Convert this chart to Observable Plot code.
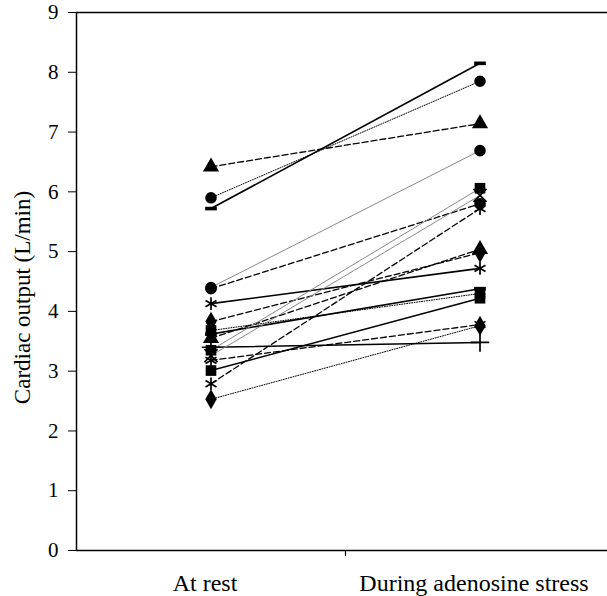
<!DOCTYPE html>
<html>
<head>
<meta charset="utf-8">
<script src="https://cdn.jsdelivr.net/npm/d3@7"></script>
<script src="https://cdn.jsdelivr.net/npm/@observablehq/plot@0.6"></script>
<style>
  body { margin: 0; background: #fff; }
  svg text { font-family: "Times New Roman", "Liberation Serif", serif !important; }
</style>
</head>
<body>
<div id="chart"></div>
<script>
const conditions = ["At rest", "During adenosine stress"];
const yTicks = [0, 1, 2, 3, 4, 5, 6, 7, 8, 9];
const restValues   = [5.72, 5.90, 6.42, 4.40, 4.38, 4.13, 3.83, 3.55, 3.62, 3.68, 3.01, 3.40, 3.26, 3.35, 2.79, 2.53, 3.18];
const stressValues = [8.15, 7.85, 7.14, 6.69, 5.80, 4.72, 4.98, 5.04, 4.38, 4.30, 4.22, 3.48, 5.94, 6.06, 5.72, 3.76, 3.78];
const markers      = ["dash", "circle", "triangle", "circle", "circle", "asterisk", "diamond", "triangle", "dash", "square", "square", "plus", "times", "square", "asterisk", "diamond", "asterisk"];
const lineStyles   = ["solid", "dotted", "dashed", "gray", "dashed", "solid", "dashed", "dashed", "solid", "dotted", "solid", "solid", "gray", "gray", "dashed", "dotted", "dashed"];

const FONT = "'Times New Roman', 'Liberation Serif', serif";
const dashSymbol = {
  draw(ctx, size) {
    const w = Math.sqrt(size) * 0.55, h = Math.sqrt(size) * 0.17;
    ctx.moveTo(-w, -h); ctx.lineTo(w, -h); ctx.lineTo(w, h); ctx.lineTo(-w, h); ctx.closePath();
  }
};
const symbolMap = {
  dash: dashSymbol, circle: d3.symbolCircle, triangle: d3.symbolTriangle, diamond: d3.symbolDiamond,
  square: d3.symbolSquare, asterisk: d3.symbolAsterisk, plus: d3.symbolPlus, times: d3.symbolTimes
};
const filled = new Set(["dash", "circle", "triangle", "diamond", "square"]);
const styleMap = {
  solid:  {stroke: "#000", strokeWidth: 1.6, dash: null},
  dashed: {stroke: "#000", strokeWidth: 1.3, dash: "6,3"},
  dotted: {stroke: "#000", strokeWidth: 1, dash: "1,1.5"},
  gray:   {stroke: "#888", strokeWidth: 1, dash: null}
};

const points = [];
restValues.forEach((r, i) => {
  points.push({id: i, cond: 0.5, v: r, marker: markers[i], style: lineStyles[i]});
  points.push({id: i, cond: 1.5, v: stressValues[i], marker: markers[i], style: lineStyles[i]});
});

const lineMarks = Object.keys(styleMap).map(s => Plot.line(points.filter(p => p.style === s), {
  x: "cond", y: "v", z: "id",
  stroke: styleMap[s].stroke, strokeWidth: styleMap[s].strokeWidth,
  strokeDasharray: styleMap[s].dash
}));

const dotMarks = Object.keys(symbolMap).map(m => Plot.dot(points.filter(p => p.marker === m), {
  x: "cond", y: "v",
  symbol: () => symbolMap[m],
  r: m === "circle" ? 5.8 : 6,
  fill: filled.has(m) ? "#000" : "none",
  stroke: "#000",
  strokeWidth: filled.has(m) ? 0 : 1.7
}));

const chart = Plot.plot({
  width: 607,
  height: 596,
  marginLeft: 76,
  marginRight: 0,
  marginTop: 12,
  marginBottom: 46,
  style: {fontFamily: FONT, fontSize: "20px", color: "#000", background: "#fff"},
  x: {domain: [0, 2], range: [76, 614], axis: null},
  y: {domain: [0, 9], ticks: yTicks},
  marks: [
    Plot.axisY({ticks: yTicks, tickSize: 8, tickPadding: 10, fontSize: 21, fontFamily: FONT, fill: "#000",
      label: null}),
    Plot.text(["Cardiac output (L/min)"], {frameAnchor: "left", textAnchor: "middle", dx: -54, dy: 16, rotate: -90, fontSize: 23, fontFamily: FONT, fill: "#000", text: d => d}),
    Plot.ruleY([9], {stroke: "#000", strokeWidth: 1.5}),
    Plot.ruleY([0], {stroke: "#000", strokeWidth: 1.5}),
    Plot.ruleX([0], {stroke: "#000", strokeWidth: 1.5}),
    Plot.ruleX([1], {y1: 0, y2: -0.1, stroke: "#000", strokeWidth: 1.2}),
    ...lineMarks,
    ...dotMarks,
    Plot.text([0.5, 1.5], {x: d => d, y: 0, text: (d, i) => conditions[i], dx: -6, dy: 33, fontSize: 24, fontFamily: FONT, fill: "#000"})
  ]
});
document.getElementById("chart").appendChild(chart);
</script>
</body>
</html>
